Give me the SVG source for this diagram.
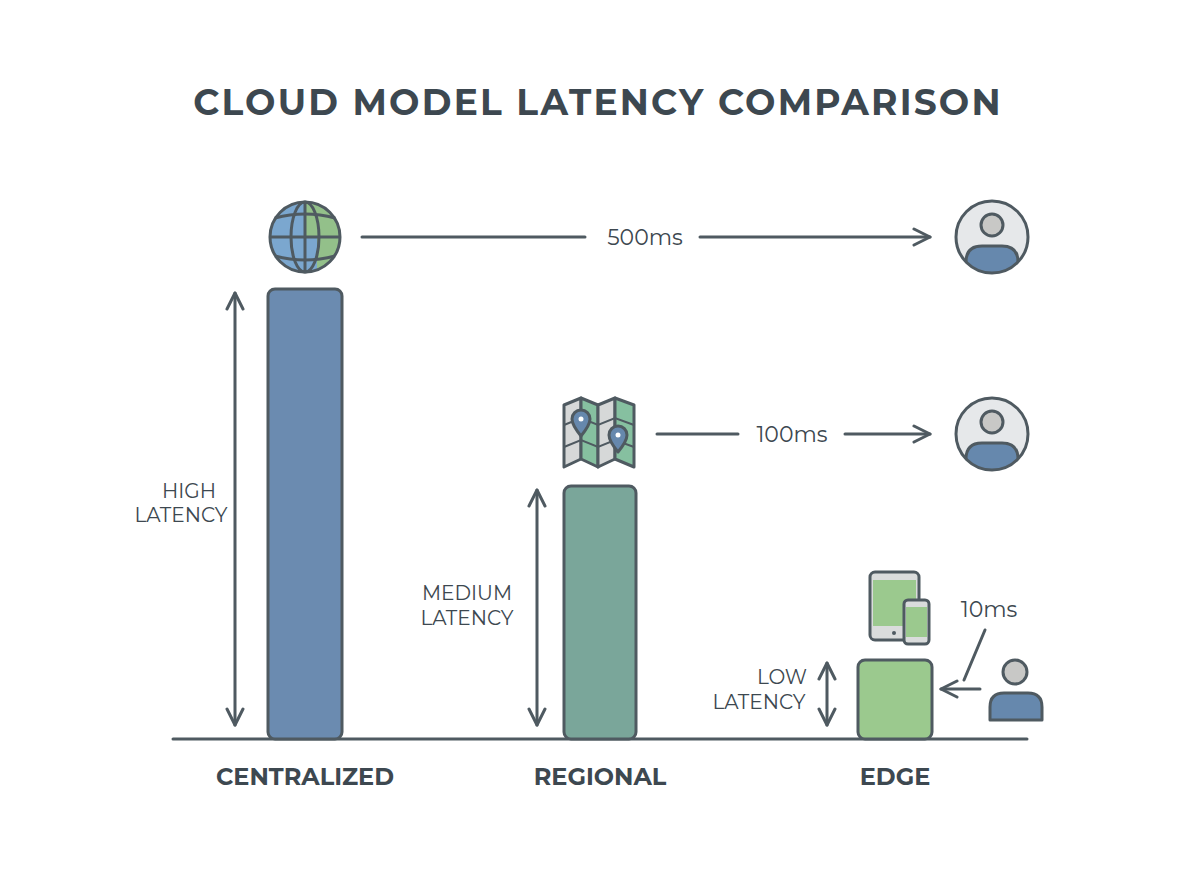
<svg xmlns="http://www.w3.org/2000/svg" width="1200" height="896" viewBox="0 0 1200 896">
<defs>
<style>
.t{font-family:Montserrat,"Open Sans","Liberation Sans",sans-serif;fill:#3d4850}
.ln{stroke:#4f5a61;stroke-width:3;fill:none;stroke-linecap:round;stroke-linejoin:round}
.ic{stroke:#4f5a61;stroke-width:3;stroke-linejoin:round}
</style>
<marker id="ah" viewBox="0 0 20 20" refX="18" refY="10" markerWidth="20" markerHeight="20" markerUnits="userSpaceOnUse" orient="auto-start-reverse">
<path d="M2 2 L18 10 L2 18" fill="none" stroke="#4f5a61" stroke-width="3" stroke-linecap="round" stroke-linejoin="round"/>
</marker>
<clipPath id="gc"><circle cx="305" cy="237" r="35"/></clipPath>
<clipPath id="u1"><circle cx="992" cy="237" r="36"/></clipPath>
<clipPath id="u2"><circle cx="992" cy="434" r="36"/></clipPath>
</defs>
<rect width="1200" height="896" fill="#ffffff"/>
<text class="t" x="598" y="115" text-anchor="middle" font-size="36" font-weight="700" letter-spacing="2.2">CLOUD MODEL LATENCY COMPARISON</text>

<g id="connectors">
<line class="ln" x1="173" y1="739" x2="1027" y2="739"/>
<line class="ln" x1="235" y1="293" x2="235" y2="725" marker-start="url(#ah)" marker-end="url(#ah)"/>
<line class="ln" x1="537" y1="490" x2="537" y2="725" marker-start="url(#ah)" marker-end="url(#ah)"/>
<line class="ln" x1="827" y1="663" x2="827" y2="725" marker-start="url(#ah)" marker-end="url(#ah)"/>
<line class="ln" x1="362" y1="237" x2="585" y2="237"/>
<line class="ln" x1="700" y1="237" x2="930" y2="237" marker-end="url(#ah)"/>
<line class="ln" x1="657" y1="434" x2="738" y2="434"/>
<line class="ln" x1="845" y1="434" x2="930" y2="434" marker-end="url(#ah)"/>
<line class="ln" x1="980" y1="689" x2="941" y2="689" marker-end="url(#ah)"/>
<line class="ln" x1="985" y1="630" x2="964" y2="680"/>
</g>

<g id="centralized">
<rect x="268" y="289" width="74" height="450" rx="7" fill="#6b8bb0" stroke="#4f5a61" stroke-width="3"/>
<text class="t" x="305" y="785" text-anchor="middle" font-size="24" font-weight="700">CENTRALIZED</text>
<text class="t" x="189" y="498" text-anchor="middle" font-size="20">HIGH</text>
<text class="t" x="181" y="522" text-anchor="middle" font-size="20">LATENCY</text>
</g>
<g id="globe">
<g clip-path="url(#gc)">
<rect x="268" y="200" width="37" height="74" fill="#7ba7cf"/>
<rect x="305" y="200" width="37" height="74" fill="#93c08a"/>
<rect x="305" y="237" width="12" height="37" fill="#7ba7cf"/>
</g>
<circle cx="305" cy="237" r="35" fill="none" class="ic"/>
<ellipse cx="305" cy="237" rx="14" ry="35" fill="none" class="ic"/>
<line x1="305" y1="202" x2="305" y2="272" class="ic"/>
<line x1="270" y1="237" x2="340" y2="237" class="ic"/>
<path d="M275 218 Q305 210 335 218 M275 256 Q305 264 335 256" fill="none" class="ic"/>
</g>
<g id="user1">
<circle cx="992" cy="237" r="36" fill="#e6e8ea"/>
<g clip-path="url(#u1)"><path d="M966 280 L966 262 Q966 246 982 246 L1002 246 Q1018 246 1018 262 L1018 280 Z" fill="#6688ad" class="ic"/></g>
<circle cx="992" cy="225" r="11" fill="#c8c8c6" class="ic"/>
<circle cx="992" cy="237" r="36" fill="none" class="ic"/>
</g>
<text class="t" x="645" y="245" text-anchor="middle" font-size="22">500ms</text>

<g id="regional">
<rect x="564" y="486" width="72" height="253" rx="7" fill="#7aa69a" stroke="#4f5a61" stroke-width="3"/>
<text class="t" x="600" y="785" text-anchor="middle" font-size="24" font-weight="700">REGIONAL</text>
<text class="t" x="467" y="600" text-anchor="middle" font-size="20">MEDIUM</text>
<text class="t" x="467" y="625" text-anchor="middle" font-size="20">LATENCY</text>
</g>
<g id="map">
<path d="M564 405 L581 398 L581 459 L564 467 Z" fill="#d6d8d8" class="ic"/>
<path d="M581 398 L598 405 L598 467 L581 459 Z" fill="#86c0a0" class="ic"/>
<path d="M598 405 L615 398 L615 459 L598 467 Z" fill="#d6d8d8" class="ic"/>
<path d="M615 398 L634 405 L634 467 L615 459 Z" fill="#86c0a0" class="ic"/>
<path d="M564 425 L581 418 L598 425 L615 418 L634 425 M564 447 L581 440 L598 447 L615 440 L634 447" fill="none" stroke="#4f5a61" stroke-width="2"/>
<path d="M581 436 Q572 425 572 419 A9 9 0 0 1 590 419 Q590 425 581 436 Z" fill="#6688ad" class="ic"/>
<circle cx="581" cy="419" r="2.5" fill="#fff"/>
<path d="M618 452 Q609 441 609 435 A9 9 0 0 1 627 435 Q627 441 618 452 Z" fill="#6688ad" class="ic"/>
<circle cx="618" cy="435" r="2.5" fill="#fff"/>
</g>
<g id="user2">
<circle cx="992" cy="434" r="36" fill="#e6e8ea"/>
<g clip-path="url(#u2)"><path d="M966 477 L966 459 Q966 443 982 443 L1002 443 Q1018 443 1018 459 L1018 477 Z" fill="#6688ad" class="ic"/></g>
<circle cx="992" cy="422" r="11" fill="#c8c8c6" class="ic"/>
<circle cx="992" cy="434" r="36" fill="none" class="ic"/>
</g>
<text class="t" x="792" y="442" text-anchor="middle" font-size="22">100ms</text>

<g id="edge">
<rect x="858" y="660" width="74" height="79" rx="7" fill="#9bc98e" stroke="#4f5a61" stroke-width="3"/>
<text class="t" x="895" y="785" text-anchor="middle" font-size="24" font-weight="700">EDGE</text>
<text class="t" x="782" y="684" text-anchor="middle" font-size="20">LOW</text>
<text class="t" x="759" y="709" text-anchor="middle" font-size="20">LATENCY</text>
</g>
<g id="devices">
<rect x="870" y="572" width="49" height="68" rx="5" fill="#dadcdc" class="ic"/>
<rect x="873" y="580" width="43" height="46" fill="#9bc98e"/>
<circle cx="894" cy="633" r="2" fill="#4f5a61"/>
<rect x="904" y="600" width="25" height="44" rx="4" fill="#dadcdc" class="ic"/>
<rect x="906" y="607" width="21" height="30" fill="#9bc98e"/>
</g>
<g id="user3">
<path d="M990 720 L990 707 Q990 693 1004 693 L1028 693 Q1042 693 1042 707 L1042 720 Z" fill="#6688ad" class="ic"/>
<circle cx="1015" cy="672" r="12" fill="#c8c8c6" class="ic"/>
</g>
<text class="t" x="989" y="617" text-anchor="middle" font-size="22">10ms</text>
</svg>
